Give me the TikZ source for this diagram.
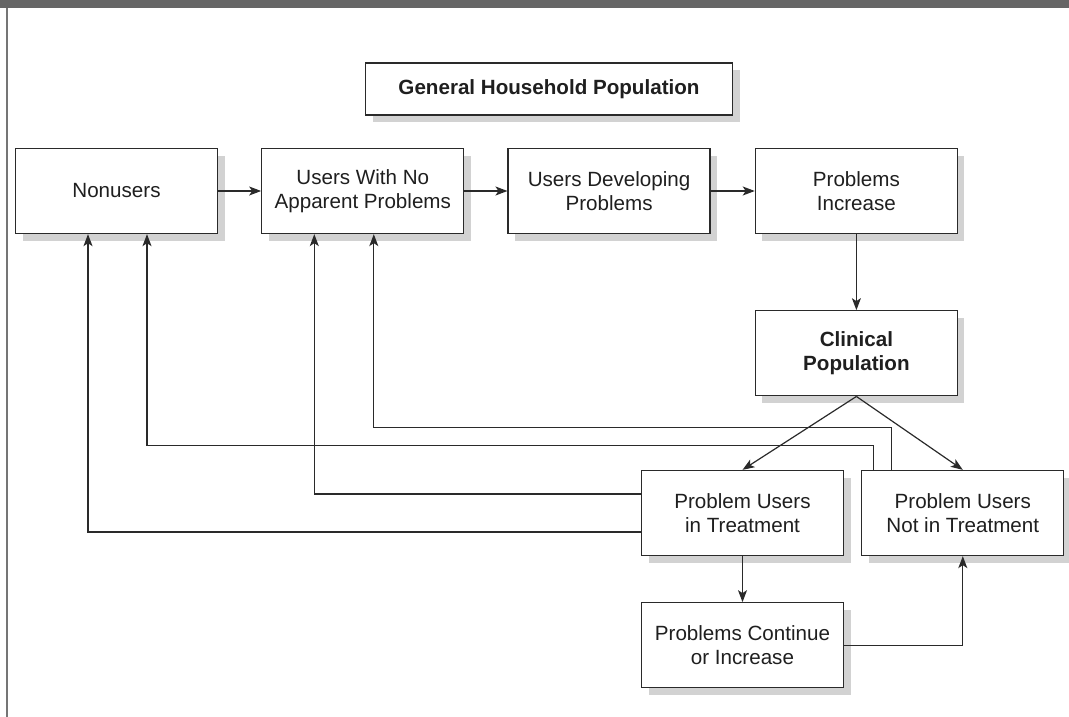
\documentclass[tikz,border=0pt]{standalone}
\usepackage{fontspec}
\setmainfont{Liberation Sans}
\usetikzlibrary{arrows.meta,shadows,positioning}
\definecolor{linegray}{HTML}{2A2A2A}
\definecolor{bargray}{HTML}{666666}
\definecolor{shadowgray}{HTML}{D2D2D2}
\tikzset{box/.style={draw=linegray, line width=1.3pt, fill=white,
    minimum width=202pt, minimum height=85pt, inner sep=0pt, align=center,
    text=black!88, font=\fontsize{20.6}{24.5}\selectfont,
    drop shadow={shadow xshift=7pt, shadow yshift=-7pt, fill=shadowgray, opacity=1}}}
\tikzset{conn/.style={draw=linegray, line width=1.2pt}}
\tikzset{arr/.style={conn, -{Stealth[length=12pt, width=9pt, inset=3pt]}}}

\begin{document}
\begin{tikzpicture}[x=1pt, y=-1pt]
  \useasboundingbox (0,0) rectangle (1069,717);
  \fill[bargray] (0,0) rectangle (1069,8);
  \draw[bargray!90, line width=2pt] (7,8) -- (7,717);

  \node[box, minimum width=367pt, minimum height=52pt,
    font=\bfseries\fontsize{20.6}{24.5}\selectfont] (gen) at (549,89) {General Household Population};
  \node[box] (non) at (116.5,191) {Nonusers};
  \node[box, right=43pt of non] (nop) {Users With No\\Apparent Problems};
  \node[box, right=43pt of nop] (dev) {Users Developing\\Problems};
  \node[box, right=44pt of dev] (inc) {Problems\\Increase};
  \node[box, below=76pt of inc, font=\bfseries\fontsize{20.6}{24.5}\selectfont] (clin) {Clinical\\Population};
  \node[box] (treat) at (742.5,513) {Problem Users\\in Treatment};
  \node[box, right=17pt of treat] (ntreat) {Problem Users\\Not in Treatment};
  \node[box, below=46pt of treat] (cont) {Problems Continue\\or Increase};

  \draw[arr] (non) -- (nop);
  \draw[arr] (nop) -- (dev);
  \draw[arr] (dev) -- (inc);
  \draw[arr] (inc) -- (clin);
  \draw[arr] (clin.south) -- (treat.north);
  \draw[arr] (clin.south) -- (ntreat.north);
  \draw[arr] (treat) -- (cont);
  \draw[arr] (cont.east) -| (ntreat.south);
  % back to the general population
  \draw[arr] ([xshift=-71.5pt]ntreat.north) -- ++(0,42pt) -| ([xshift=11pt]nop.south);
  \draw[arr] ([xshift=-89.5pt]ntreat.north) -- ++(0,24pt) -| ([xshift=30.5pt]non.south);
  \draw[arr] ([yshift=19pt]treat.west) -| ([xshift=-48.5pt]nop.south);
  \draw[arr] ([yshift=-19pt]treat.west) -| ([xshift=-28.5pt]non.south);
\end{tikzpicture}
\end{document}
